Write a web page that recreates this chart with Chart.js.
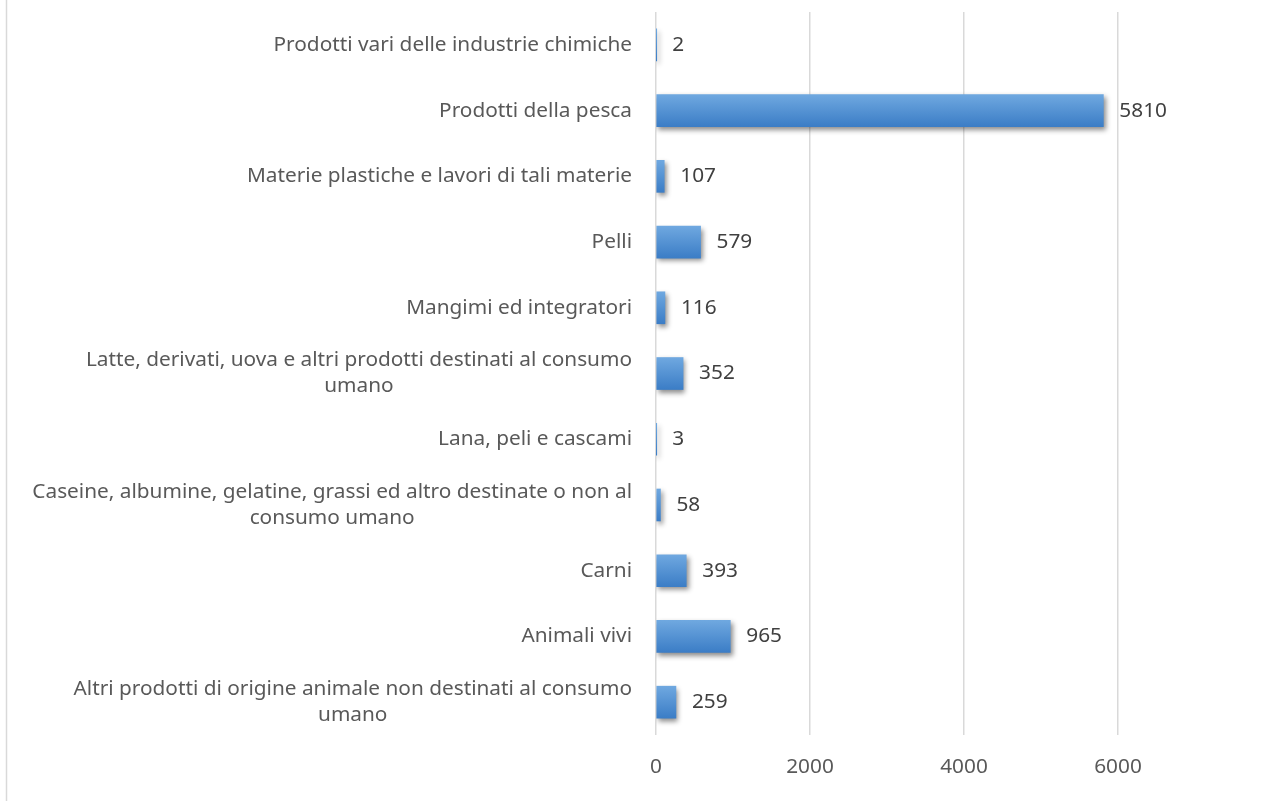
<!DOCTYPE html>
<html>
<head>
<meta charset="utf-8">
<script src="https://cdn.jsdelivr.net/npm/chart.js@4/dist/chart.umd.min.js"></script>
<style>
  html, body { margin: 0; padding: 0; background: #ffffff; }
  #wrap { position: relative; width: 1275px; height: 801px; }
</style>
</head>
<body>
<div id="wrap"><canvas id="chart" width="1275" height="801"></canvas></div>
<script>
// Categories listed top to bottom; wrapped labels are split into lines.
const categories = [
  ['Prodotti vari delle industrie chimiche'],
  ['Prodotti della pesca'],
  ['Materie plastiche e lavori di tali materie'],
  ['Pelli'],
  ['Mangimi ed integratori'],
  ['Latte, derivati, uova e altri prodotti destinati al consumo', 'umano'],
  ['Lana, peli e cascami'],
  ['Caseine, albumine, gelatine, grassi ed altro destinate o non al', 'consumo umano'],
  ['Carni'],
  ['Animali vivi'],
  ['Altri prodotti di origine animale non destinati al consumo', 'umano']
];
const values = [2, 5810, 107, 579, 116, 352, 3, 58, 393, 965, 259];
const tickValues = [0, 2000, 4000, 6000];

const FONT = '"Noto Sans", "Open Sans", sans-serif';
const FONT_SIZE = 20.8;
const AXIS_COLOR = '#595959';
const LABEL_COLOR = '#404040';
const GRID_COLOR = '#d9d9d9';

// Frame line on the left edge of the chart box.
const framePlugin = {
  id: 'frame',
  beforeDraw(chart) {
    const c = chart.ctx;
    c.save();
    c.strokeStyle = '#d9d9d9';
    c.lineWidth = 1.5;
    c.beginPath();
    c.moveTo(6.5, 0);
    c.lineTo(6.5, chart.height);
    c.stroke();
    c.restore();
  }
};

// Soft drop shadow under the bars.
const shadowPlugin = {
  id: 'barShadow',
  beforeDatasetsDraw(chart) {
    const c = chart.ctx;
    c.save();
    c.shadowColor = 'rgba(0,0,0,0.45)';
    c.shadowBlur = 5;
    c.shadowOffsetX = 2;
    c.shadowOffsetY = 3;
  },
  afterDatasetsDraw(chart) {
    chart.ctx.restore();
  }
};

// Category labels: first line right-aligned, following lines centred under it.
const categoryLabelPlugin = {
  id: 'categoryLabels',
  afterDraw(chart) {
    const c = chart.ctx;
    const y = chart.scales.y;
    const right = chart.chartArea.left - 24;
    const lineH = 26;
    c.save();
    c.font = FONT_SIZE + 'px ' + FONT;
    c.fillStyle = AXIS_COLOR;
    c.textBaseline = 'middle';
    chart.data.labels.forEach((lines, i) => {
      const cy = y.getPixelForValue(i);
      const y0 = cy - (lines.length - 1) * lineH / 2;
      const w0 = c.measureText(lines[0]).width;
      const center = right - w0 / 2;
      lines.forEach((line, k) => {
        if (k === 0) {
          c.textAlign = 'right';
          c.fillText(line, right, y0);
        } else {
          c.textAlign = 'center';
          c.fillText(line, center, y0 + k * lineH);
        }
      });
    });
    c.restore();
  }
};

// Value labels just past the end of each bar.
const valueLabelPlugin = {
  id: 'valueLabels',
  afterDatasetsDraw(chart) {
    const c = chart.ctx;
    const meta = chart.getDatasetMeta(0);
    c.save();
    c.font = FONT_SIZE + 'px ' + FONT;
    c.fillStyle = LABEL_COLOR;
    c.textAlign = 'left';
    c.textBaseline = 'middle';
    meta.data.forEach((bar, i) => {
      c.fillText(String(values[i]), bar.x + 16, bar.y);
    });
    c.restore();
  }
};

function barFill(context) {
  const chart = context.chart;
  const y = chart.scales && chart.scales.y;
  if (!y || !chart.chartArea) return '#4a8ad2';
  const cy = y.getPixelForValue(context.dataIndex);
  const g = chart.ctx.createLinearGradient(0, cy - 16, 0, cy + 16);
  g.addColorStop(0, '#6fa8e0');
  g.addColorStop(1, '#3b7dc6');
  return g;
}

new Chart(document.getElementById('chart'), {
  type: 'bar',
  data: {
    labels: categories,
    datasets: [{
      data: values,
      backgroundColor: barFill,
      borderWidth: 0,
      barThickness: 32
    }]
  },
  options: {
    indexAxis: 'y',
    responsive: false,
    animation: false,
    layout: { padding: { top: 12, right: 3, bottom: 1, left: 0 } },
    plugins: {
      legend: { display: false },
      tooltip: { enabled: false }
    },
    scales: {
      x: {
        min: 0,
        max: 8000,
        afterBuildTicks(scale) {
          scale.ticks = tickValues.map(v => ({ value: v }));
        },
        border: { display: false },
        grid: {
          color: GRID_COLOR,
          lineWidth: 1.5,
          drawTicks: false
        },
        ticks: {
          padding: 20,
          color: AXIS_COLOR,
          font: { family: FONT, size: FONT_SIZE },
          callback: (v) => String(v)
        }
      },
      y: {
        afterFit(scale) { scale.width = 656; },
        grid: { display: false },
        border: { display: false },
        ticks: { display: false }
      }
    }
  },
  plugins: [framePlugin, shadowPlugin, categoryLabelPlugin, valueLabelPlugin]
});
</script>
</body>
</html>
